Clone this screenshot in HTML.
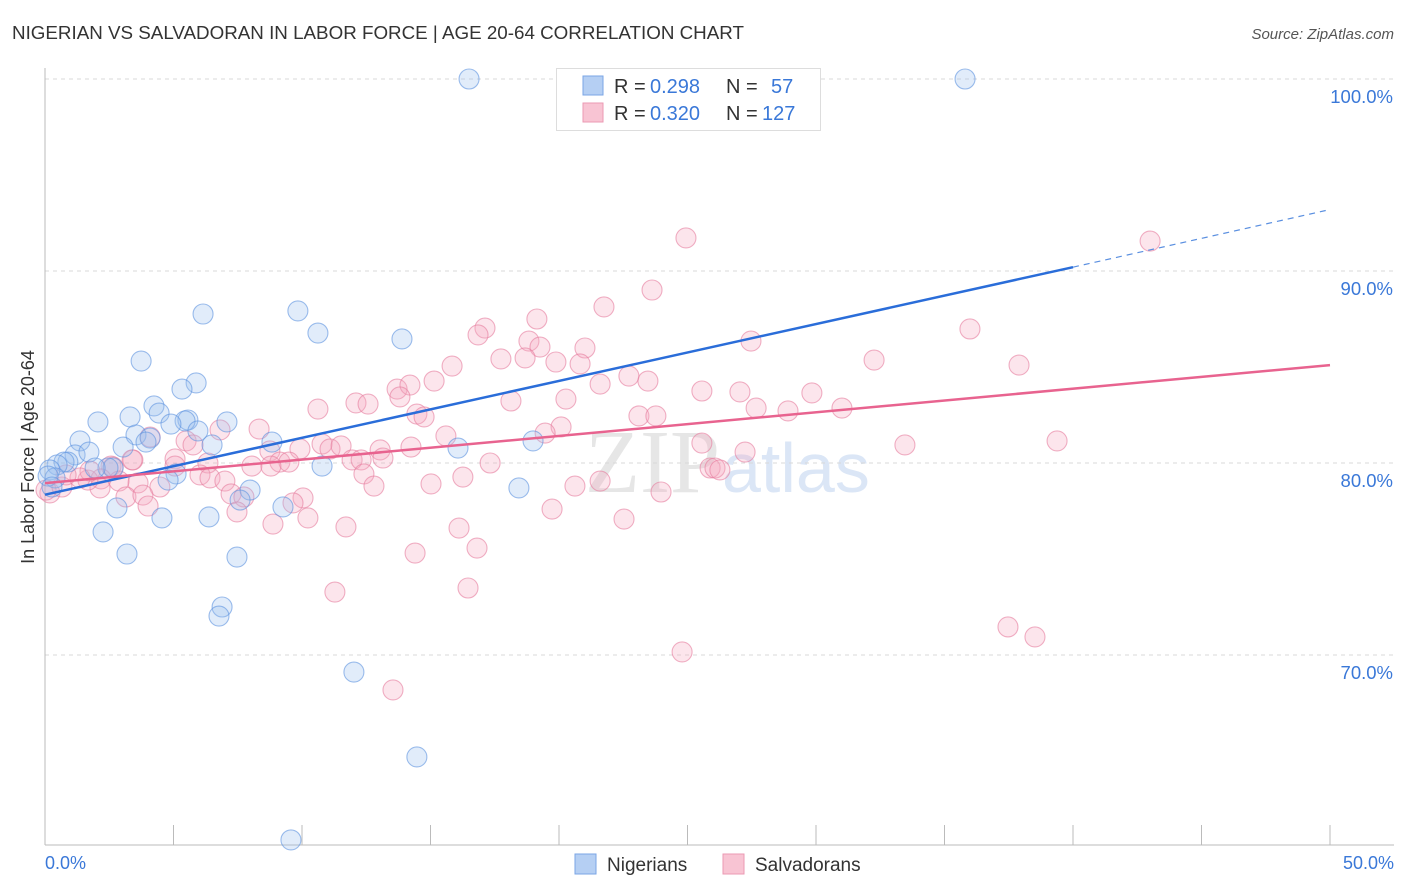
<!DOCTYPE html>
<html><head><meta charset="utf-8"><style>
body{margin:0;background:#fff;font-family:"Liberation Sans",sans-serif;}
svg{display:block}
</style></head><body>
<svg id="chart" width="1406" height="892">
<text x="12" y="39" font-size="18.8" fill="#333">NIGERIAN VS SALVADORAN IN LABOR FORCE | AGE 20-64 CORRELATION CHART</text>
<text x="1394" y="39" font-size="15" fill="#555" font-style="italic" text-anchor="end">Source: ZipAtlas.com</text>
<text x="720" y="492" font-size="90" fill="#e6e6e6" font-family="Liberation Serif" text-anchor="end">ZIP</text>
<text x="722" y="492" font-size="70" fill="#dbe6f6">atlas</text>
<g id="grid"></g>
<g id="axes"></g>
<g id="pink"></g>
<g id="blue"></g>
<g id="lines"></g>
<text transform="translate(34,457) rotate(-90)" font-size="18" fill="#333" text-anchor="middle">In Labor Force | Age 20-64</text>
<text x="45" y="869" font-size="18" fill="#3a78d8">0.0%</text>
<text x="1394" y="869" font-size="18" fill="#3a78d8" text-anchor="end">50.0%</text>
<g>
<rect x="556.5" y="68.5" width="264" height="62" fill="#fff" stroke="#ddd"/>
<rect x="583" y="76" width="20" height="19" fill="#b5cff3" stroke="#7aa5e6"/>
<rect x="583" y="103" width="20" height="19" fill="#f8c4d3" stroke="#eb9ab3"/>
<text x="614" y="93" font-size="20" fill="#333">R = </text><text x="650" y="93" font-size="20" fill="#3a78d8">0.298</text>
<text x="726" y="93" font-size="20" fill="#333">N = </text><text x="771" y="93" font-size="20" fill="#3a78d8">57</text>
<text x="614" y="120" font-size="20" fill="#333">R = </text><text x="650" y="120" font-size="20" fill="#3a78d8">0.320</text>
<text x="726" y="120" font-size="20" fill="#333">N = </text><text x="762" y="120" font-size="20" fill="#3a78d8">127</text>
</g>
<g>
<rect x="575" y="854" width="21" height="20" fill="#b5cff3" stroke="#7aa5e6"/>
<text x="607" y="871" font-size="19" fill="#333">Nigerians</text>
<rect x="723" y="854" width="21" height="20" fill="#f8c4d3" stroke="#eb9ab3"/>
<text x="755" y="871" font-size="19" fill="#333">Salvadorans</text>
</g>
</svg>
<script>
const yTicks=[100,90,80,70];
const yTickLabels=["100.0%","90.0%","80.0%","70.0%"];
const xTicks=[0,5,10,15,20,25,30,35,40,45,50];
const blueX=[16.5,35.8,6.15,9.84,10.62,13.89,3.74,5.88,5.33,4.24,4.44,3.31,2.06,5.56,5.45,7.08,4.90,5.95,3.54,4.09,3.93,1.36,8.83,6.50,16.07,18.99,3.04,1.17,1.71,0.89,0.74,0.47,0.19,2.65,2.45,1.95,10.78,5.10,4.79,0.39,0.12,0.27,7.98,18.44,7.59,9.26,2.80,6.38,4.55,2.26,3.19,7.47,6.89,6.77,12.02,14.47,9.57];
const blueY=[100,100,87.76,87.92,86.77,86.46,85.31,84.17,83.85,82.97,82.60,82.40,82.14,82.24,82.19,82.14,82.03,81.67,81.46,81.30,81.09,81.15,81.09,80.94,80.78,81.15,80.83,80.42,80.57,80.05,80.05,79.90,79.64,79.74,79.74,79.74,79.84,79.43,79.11,79.22,79.32,78.75,78.59,78.70,78.07,77.71,77.66,77.19,77.14,76.41,75.26,75.10,72.50,72.03,69.11,64.69,60.37];
const pinkX=[24.94,43.00,23.62,21.75,19.14,17.12,16.85,35.99,18.83,27.47,21.01,19.26,17.74,18.68,19.88,15.84,20.82,32.26,37.90,15.14,21.60,22.72,23.46,13.70,14.20,13.81,25.56,27.04,29.84,20.27,18.13,12.10,12.57,10.62,27.67,14.47,14.75,31.01,28.91,23.11,23.77,20.08,19.46,8.33,6.81,5.49,5.76,4.09,15.60,10.78,11.09,11.52,9.92,25.56,33.46,39.38,13.04,14.24,8.75,13.15,11.95,12.30,5.06,3.42,6.34,9.14,9.49,8.05,8.79,17.32,27.24,25.88,26.07,26.26,16.26,2.57,2.65,12.41,6.03,6.42,7.00,12.80,15.02,21.60,20.62,23.97,3.62,2.18,2.88,2.14,4.47,7.24,7.74,3.15,3.81,0.19,0.04,0.66,1.67,5.06,10.04,9.65,7.47,4.01,8.87,10.23,11.71,16.11,19.73,22.53,14.40,16.81,11.28,16.46,24.79,37.47,38.52,13.54,3.39,1.75,1.36,0.82];
const pinkY=[91.72,91.56,89.01,88.13,87.50,87.03,86.67,86.98,86.35,86.35,85.99,86.04,85.42,85.47,85.26,85.05,85.16,85.36,85.10,84.27,84.11,84.53,84.27,83.85,84.06,83.44,83.75,83.70,83.65,83.33,83.23,83.13,83.07,82.81,82.86,82.55,82.40,82.86,82.71,82.45,82.45,81.88,81.56,81.77,81.72,81.15,80.94,81.35,81.41,80.99,80.73,80.89,80.73,81.04,80.94,81.15,80.68,80.83,80.63,80.26,80.16,80.16,80.21,80.16,80.00,80.05,80.05,79.84,79.84,80.00,80.57,79.74,79.74,79.64,79.27,79.84,79.79,79.43,79.38,79.22,79.06,78.80,78.91,79.06,78.80,78.49,78.96,79.17,79.06,78.70,78.75,78.39,78.23,78.23,78.33,78.44,78.59,78.75,79.11,79.84,78.18,77.92,77.45,77.76,76.82,77.14,76.67,76.61,77.60,77.08,75.31,75.57,73.28,73.49,70.16,71.46,70.94,68.18,80.16,79.58,79.22,79.38];
const blueTrend=[[0,78.35],[40,90.2]];
const blueTrendExt=[[40,90.2],[50,93.2]];
const pinkTrend=[[0,78.95],[50,85.1]];

const NS="http://www.w3.org/2000/svg";
const X=v=>45+v*25.7;
const Y=v=>79+(100-v)*19.2;
function mk(tag,attrs,parent){const e=document.createElementNS(NS,tag);for(const k in attrs)e.setAttribute(k,attrs[k]);parent.appendChild(e);return e;}
const grid=document.getElementById('grid'),axes=document.getElementById('axes');
yTicks.forEach((t,i)=>{
  const l=mk('line',{x1:45,x2:1394,y1:Y(t),y2:Y(t),stroke:'#d8d8d8','stroke-dasharray':'4,4'},grid);
  
  
  const tx=mk('text',{x:1393,y:Y(t)+24,'font-size':18.5,fill:'#3a78d8','text-anchor':'end'},grid);
  tx.textContent=yTickLabels[i];
  
  
});
const xa=mk('line',{x1:45,x2:1394,y1:845,y2:845,stroke:'#bbb'},axes);


const ya=mk('line',{x1:45,x2:45,y1:68,y2:845,stroke:'#bbb'},axes);


xTicks.forEach(t=>{
  const l=mk('line',{x1:X(t),x2:X(t),y1:825,y2:845,stroke:'#bbb'},axes);
  
  
});
function dots(xs,ys,g,fill,stroke,name){
  xs.forEach((x,i)=>{
    const c=mk('circle',{cx:X(x),cy:Y(ys[i]),r:10,fill:fill,'fill-opacity':0.3,stroke:stroke,'stroke-width':1.1,'stroke-opacity':0.6},g);
    
    
  });
}
dots(pinkX,pinkY,document.getElementById('pink'),'#f5a8c0','#e67d9e','salvadoran-point');
dots(blueX,blueY,document.getElementById('blue'),'#9dc0f0','#5d93e0','nigerian-point');
const lg=document.getElementById('lines');
const b1=mk('line',{x1:X(blueTrend[0][0]),y1:Y(blueTrend[0][1]),x2:X(blueTrend[1][0]),y2:Y(blueTrend[1][1]),stroke:'#2a6dd9','stroke-width':2.5},lg);


const b2=mk('line',{x1:X(blueTrendExt[0][0]),y1:Y(blueTrendExt[0][1]),x2:X(blueTrendExt[1][0]),y2:Y(blueTrendExt[1][1]),stroke:'#5a8fe0','stroke-width':1.2,'stroke-dasharray':'6,5'},lg);


const p1=mk('line',{x1:X(pinkTrend[0][0]),y1:Y(pinkTrend[0][1]),x2:X(pinkTrend[1][0]),y2:Y(pinkTrend[1][1]),stroke:'#e8638f','stroke-width':2.5},lg);


</script>
</body></html>
